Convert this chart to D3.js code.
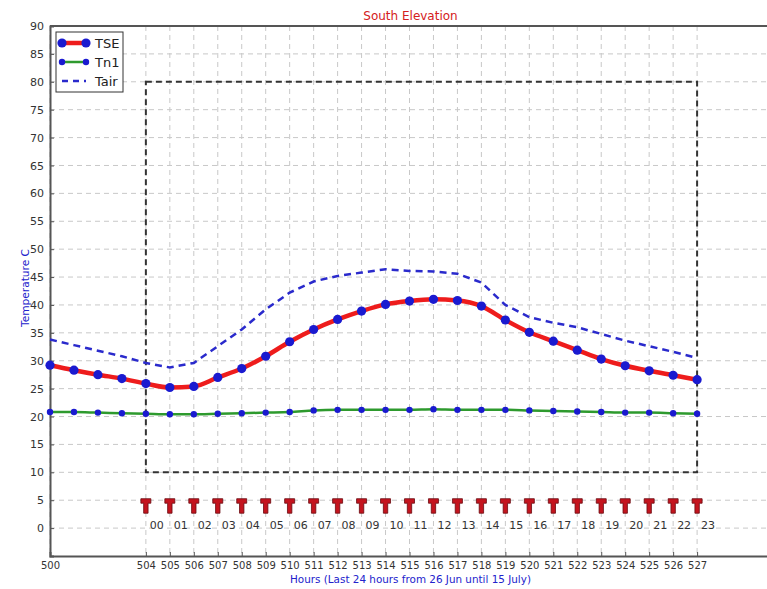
<!DOCTYPE html>
<html>
<head>
<meta charset="utf-8">
<script src="https://cdn.jsdelivr.net/npm/d3@7"></script>
<style>
  body { margin: 0; background: #fff; }
  svg { display: block; font-family: "DejaVu Sans", sans-serif; }
</style>
</head>
<body>
<div id="chart"></div>
<script>
// hours and series
const hours = d3.range(500, 528);
const tse = [29.2, 28.3, 27.5, 26.8, 25.9, 25.2, 25.4, 27.0, 28.6, 30.8, 33.4, 35.6, 37.4, 38.9,
             40.1, 40.7, 41.0, 40.8, 39.8, 37.3, 35.1, 33.5, 31.9, 30.3, 29.1, 28.2, 27.4, 26.6];
const tn1 = [20.8, 20.8, 20.7, 20.6, 20.5, 20.4, 20.4, 20.5, 20.6, 20.7, 20.8, 21.1, 21.2, 21.2,
             21.2, 21.2, 21.3, 21.2, 21.2, 21.2, 21.1, 21.0, 20.9, 20.8, 20.7, 20.7, 20.6, 20.5];
const tair = [33.8, 32.8, 31.8, 30.8, 29.6, 28.8, 29.6, 32.6, 35.6, 39.2, 42.2, 44.2, 45.2, 45.8,
              46.4, 46.1, 46.0, 45.6, 44.0, 40.0, 37.8, 36.8, 36.0, 34.8, 33.6, 32.6, 31.6, 30.5];
const xTicks = [500].concat(d3.range(504, 528));
const yTicks = d3.range(0, 91, 5);
const dayHours = d3.range(504, 528);
const hourLabels = dayHours.map((d, i) => String(i).padStart(2, "0"));
const box = {x0: 504, x1: 527, y0: 10, y1: 80};
const markerLevel = 5;

const width = 767, height = 589;
const m = {left: 50, top: 26, right: 769, bottom: 556};

const svg = d3.select("#chart").append("svg").attr("width", width).attr("height", height);

const x = d3.scaleLinear().domain([500, 530]).range([m.left, m.right]);
const y = d3.scaleLinear().domain([-5, 90]).range([m.bottom, m.top]);

// grid
const grid = svg.append("g").attr("stroke", "#c8c8c8").attr("stroke-width", 1).attr("stroke-dasharray", "5,4");
grid.selectAll("line.v").data(xTicks).join("line").attr("class", "v")
    .attr("x1", d => x(d)).attr("x2", d => x(d)).attr("y1", m.top).attr("y2", m.bottom);
grid.selectAll("line.h").data(yTicks).join("line").attr("class", "h")
    .attr("x1", m.left).attr("x2", width).attr("y1", d => y(d)).attr("y2", d => y(d));

// dashed box
svg.append("rect")
    .attr("x", x(box.x0)).attr("y", y(box.y1))
    .attr("width", x(box.x1) - x(box.x0)).attr("height", y(box.y0) - y(box.y1))
    .attr("fill", "none").attr("stroke", "#333").attr("stroke-width", 2).attr("stroke-dasharray", "6,4");

// axes
const xAxis = svg.append("g").attr("transform", `translate(0,${m.bottom})`)
    .call(d3.axisBottom(x).tickValues(xTicks).tickSize(-4).tickPadding(6).tickFormat(d3.format("d")));
const yAxis = svg.append("g").attr("transform", `translate(${m.left},0)`)
    .call(d3.axisLeft(y).tickValues(yTicks).tickSize(-4).tickPadding(6));
[xAxis, yAxis].forEach(a => {
    a.select(".domain").attr("stroke", "#555").attr("stroke-width", 2);
    a.selectAll(".tick line").attr("stroke", "#555");
    a.selectAll("text").attr("font-size", 11).attr("fill", "#333").attr("font-family", "DejaVu Sans");
});
xAxis.selectAll("text").attr("font-size", 10);
svg.append("line").attr("x1", m.left).attr("x2", width).attr("y1", m.top).attr("y2", m.top)
    .attr("stroke", "#555").attr("stroke-width", 2);

// Tair
svg.append("path").datum(tair)
    .attr("d", d3.line().x((d, i) => x(hours[i])).y(d => y(d)))
    .attr("fill", "none").attr("stroke", "#2a2acc").attr("stroke-width", 2.5).attr("stroke-dasharray", "7,5");

// Tn1
svg.append("path").datum(tn1)
    .attr("d", d3.line().x((d, i) => x(hours[i])).y(d => y(d)).curve(d3.curveMonotoneX))
    .attr("fill", "none").attr("stroke", "#2e9a2e").attr("stroke-width", 2.5);
svg.append("g").selectAll("circle").data(tn1).join("circle")
    .attr("cx", (d, i) => x(hours[i])).attr("cy", d => y(d)).attr("r", 3.2).attr("fill", "#1a1ad0");

// TSE
svg.append("path").datum(tse)
    .attr("d", d3.line().x((d, i) => x(hours[i])).y(d => y(d)).curve(d3.curveMonotoneX))
    .attr("fill", "none").attr("stroke", "#ee1c1c").attr("stroke-width", 4.5);
svg.append("g").selectAll("circle").data(tse).join("circle")
    .attr("cx", (d, i) => x(hours[i])).attr("cy", d => y(d)).attr("r", 4.6).attr("fill", "#1a1ad0");

// T markers and hour labels
const tm = svg.append("g");
tm.selectAll("path").data(dayHours).join("path")
    .attr("transform", d => `translate(${x(d)},${y(markerLevel)})`)
    .attr("d", "M-5,-1.5 L5,-1.5 L5,3 L2.2,3 L2.2,13 L-2.2,13 L-2.2,3 L-5,3 Z")
    .attr("fill", "#c4141e").attr("stroke", "#6a0a10").attr("stroke-width", 0.8);
tm.selectAll("text").data(dayHours).join("text")
    .attr("x", d => x(d) + 4).attr("y", y(0) - 3)
    .attr("dy", "0.35em").attr("font-size", 11).attr("fill", "#333")
    .text((d, i) => hourLabels[i]);

// title and labels
svg.append("text").attr("x", (m.left + width) / 2 + 2).attr("y", 20).attr("text-anchor", "middle")
    .attr("font-size", 12).attr("fill", "#d42020").text("South Elevation");
svg.append("text").attr("x", (m.left + width) / 2 + 2).attr("y", 583).attr("text-anchor", "middle")
    .attr("font-size", 10.4).attr("fill", "#2222cc").text("Hours (Last 24 hours from 26 Jun until 15 July)");
svg.append("text").attr("transform", `translate(29,${(m.top + m.bottom) / 2 - 3}) rotate(-90)`)
    .attr("text-anchor", "middle").attr("font-size", 10.6).attr("fill", "#2222cc").text("Temperature C");

// legend
const lg = svg.append("g").attr("transform", "translate(56,32)");
lg.append("rect").attr("width", 67).attr("height", 60).attr("fill", "#fff").attr("stroke", "#333").attr("stroke-width", 1);
const items = [
    {name: "TSE", color: "#ee1c1c", w: 4.5, dash: null, r: 4.6},
    {name: "Tn1", color: "#2e9a2e", w: 2.5, dash: null, r: 3.2},
    {name: "Tair", color: "#2a2acc", w: 2.5, dash: "6,5", r: 0}
];
items.forEach((it, i) => {
    const yy = 11 + i * 19;
    lg.append("line").attr("x1", 6).attr("x2", 30).attr("y1", yy).attr("y2", yy)
        .attr("stroke", it.color).attr("stroke-width", it.w).attr("stroke-dasharray", it.dash);
    if (it.r) {
        lg.append("circle").attr("cx", 6).attr("cy", yy).attr("r", it.r).attr("fill", "#1a1ad0");
        lg.append("circle").attr("cx", 30).attr("cy", yy).attr("r", it.r).attr("fill", "#1a1ad0");
    }
    lg.append("text").attr("x", 39).attr("y", yy).attr("dy", "0.36em").attr("font-size", 13)
        .attr("fill", "#222").text(it.name);
});
</script>
</body>
</html>
